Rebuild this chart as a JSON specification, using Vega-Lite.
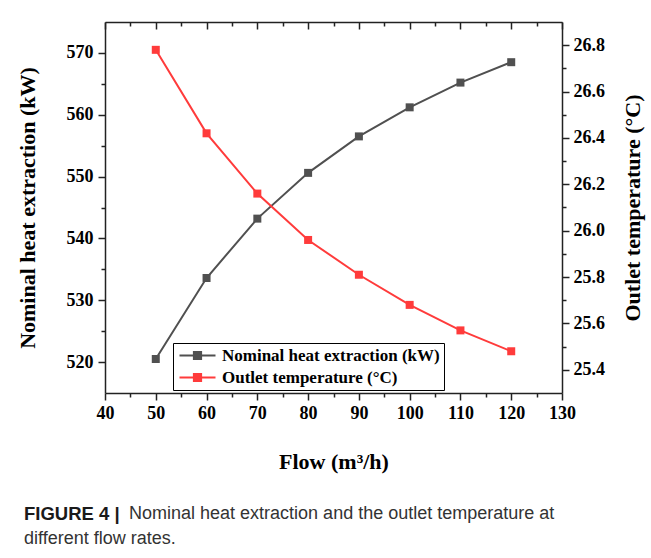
{
  "$schema": "https://vega.github.io/schema/vega-lite/v6.json",
  "width": 457,
  "height": 371,
  "autosize": {"type": "none"},
  "padding": {"left": 105, "top": 22, "right": 89, "bottom": 165},
  "background": "white",
  "config": {
    "view": {"stroke": null},
    "axis": {
      "grid": false,
      "domainColor": "#222222",
      "domainWidth": 1.5,
      "tickColor": "#222222",
      "tickWidth": 1.5,
      "labelFont": "Liberation Serif",
      "labelFontWeight": "bold",
      "labelFontSize": 18,
      "labelColor": "#000000",
      "labelOverlap": false,
      "labelFlush": false,
      "titleFont": "Liberation Serif",
      "titleFontWeight": "bold",
      "titleFontSize": 22,
      "titleColor": "#000000"
    }
  },
  "data": {
    "values": [
      {"flow": 50, "series": "Nominal heat extraction (kW)", "value": 520.5},
      {"flow": 60, "series": "Nominal heat extraction (kW)", "value": 533.6},
      {"flow": 70, "series": "Nominal heat extraction (kW)", "value": 543.2},
      {"flow": 80, "series": "Nominal heat extraction (kW)", "value": 550.6},
      {"flow": 90, "series": "Nominal heat extraction (kW)", "value": 556.5},
      {"flow": 100, "series": "Nominal heat extraction (kW)", "value": 561.2},
      {"flow": 110, "series": "Nominal heat extraction (kW)", "value": 565.2},
      {"flow": 120, "series": "Nominal heat extraction (kW)", "value": 568.5},
      {"flow": 50, "series": "Outlet temperature (°C)", "value": 26.78},
      {"flow": 60, "series": "Outlet temperature (°C)", "value": 26.42},
      {"flow": 70, "series": "Outlet temperature (°C)", "value": 26.16},
      {"flow": 80, "series": "Outlet temperature (°C)", "value": 25.96},
      {"flow": 90, "series": "Outlet temperature (°C)", "value": 25.81},
      {"flow": 100, "series": "Outlet temperature (°C)", "value": 25.68},
      {"flow": 110, "series": "Outlet temperature (°C)", "value": 25.57},
      {"flow": 120, "series": "Outlet temperature (°C)", "value": 25.48}
    ]
  },
  "title": {
    "text": "FIGURE 4 |",
    "subtitle": [
      "\u200b\u00a0\u00a0\u00a0\u00a0\u00a0\u00a0\u00a0\u00a0\u00a0\u00a0\u00a0\u00a0\u00a0\u00a0\u00a0\u00a0\u00a0\u00a0\u00a0\u00a0\u00a0Nominal heat extraction and the outlet temperature at",
      "different flow rates."
    ],
    "orient": "bottom",
    "anchor": "start",
    "frame": "bounds",
    "font": "Liberation Sans",
    "fontWeight": "bold",
    "fontSize": 18.5,
    "color": "#1a1a1a",
    "subtitleFont": "Liberation Sans",
    "subtitleFontSize": 18,
    "subtitleFontWeight": "normal",
    "subtitleColor": "#333333",
    "subtitlePadding": -18.5,
    "subtitleLineHeight": 25,
    "offset": 33,
    "dx": 8
  },
  "layer": [
    {
      "transform": [{"filter": "datum.series === 'Nominal heat extraction (kW)'"}],
      "mark": {"type": "line", "strokeWidth": 2, "point": {"shape": "square", "filled": true, "size": 64}},
      "encoding": {
        "x": {
          "field": "flow",
          "type": "quantitative",
          "scale": {"domain": [40, 130], "nice": false},
          "axis": {
            "orient": "bottom",
            "values": [40, 45, 50, 55, 60, 65, 70, 75, 80, 85, 90, 95, 100, 105, 110, 115, 120, 125, 130],
            "labelExpr": "datum.value % 10 === 0 ? datum.label : ''",
            "tickSize": {"condition": {"test": "datum.value % 10 === 0", "value": 7}, "value": 4},
            "labelPadding": 4,
            "title": "Flow (m³/h)",
            "titlePadding": 29
          }
        },
        "y": {
          "field": "value",
          "type": "quantitative",
          "scale": {"domain": [515, 575], "nice": false, "zero": false},
          "axis": {
            "orient": "left",
            "values": [520, 525, 530, 535, 540, 545, 550, 555, 560, 565, 570],
            "labelExpr": "datum.value % 10 === 0 ? datum.label : ''",
            "tickSize": {"condition": {"test": "datum.value % 10 === 0", "value": 7}, "value": 4},
            "labelPadding": 5,
            "title": "Nominal heat extraction (kW)",
            "titlePadding": 27
          }
        },
        "color": {
          "field": "series",
          "type": "nominal",
          "scale": {
            "domain": ["Nominal heat extraction (kW)", "Outlet temperature (°C)"],
            "range": ["#505050", "#ff3b3b"]
          },
          "legend": {
            "orient": "none",
            "legendX": 68,
            "legendY": 321,
            "title": null,
            "direction": "vertical",
            "strokeColor": "#000000",
            "fillColor": "#ffffff",
            "padding": 4,
            "labelFont": "Liberation Serif",
            "labelFontWeight": "bold",
            "labelFontSize": 17,
            "labelColor": "#000000",
            "labelLimit": 400,
            "symbolType": "M-3,0H3M-0.6,-0.6H0.6V0.6H-0.6Z",
            "symbolSize": 144,
            "symbolStrokeWidth": 2,
            "symbolOffset": 12,
            "labelOffset": 16,
            "rowPadding": 4,
            "encode": {"symbols": {"update": {"fill": {"scale": "color", "field": "value"}}}}
          }
        }
      }
    },
    {
      "transform": [{"filter": "datum.series === 'Outlet temperature (°C)'"}],
      "mark": {"type": "line", "strokeWidth": 2, "point": {"shape": "square", "filled": true, "size": 64}},
      "encoding": {
        "x": {
          "field": "flow",
          "type": "quantitative",
          "scale": {"domain": [40, 130], "nice": false},
          "axis": {
            "orient": "top",
            "values": [40, 45, 50, 55, 60, 65, 70, 75, 80, 85, 90, 95, 100, 105, 110, 115, 120, 125, 130],
            "labels": false,
            "tickSize": {"condition": {"test": "datum.value % 10 === 0", "value": -7}, "value": -4},
            "title": null
          }
        },
        "y": {
          "field": "value",
          "type": "quantitative",
          "scale": {"domain": [25.3, 26.9], "nice": false, "zero": false},
          "axis": {
            "orient": "right",
            "values": [25.4, 25.5, 25.6, 25.7, 25.8, 25.9, 26.0, 26.1, 26.2, 26.3, 26.4, 26.5, 26.6, 26.7, 26.8],
            "format": ".1f",
            "labelExpr": "round(datum.value * 10) % 2 === 0 ? datum.label : ''",
            "tickSize": {"condition": {"test": "round(datum.value * 10) % 2 === 0", "value": 7}, "value": 4},
            "labelPadding": 4,
            "title": "Outlet temperature (°C)",
            "titleAngle": 270,
            "titleBaseline": "top",
            "titlePadding": 18
          }
        },
        "color": {
          "field": "series",
          "type": "nominal",
          "scale": {
            "domain": ["Nominal heat extraction (kW)", "Outlet temperature (°C)"],
            "range": ["#505050", "#ff3b3b"]
          }
        }
      }
    }
  ],
  "resolve": {
    "scale": {"x": "shared", "y": "independent", "color": "shared"},
    "axis": {"x": "independent", "y": "independent"}
  }
}
